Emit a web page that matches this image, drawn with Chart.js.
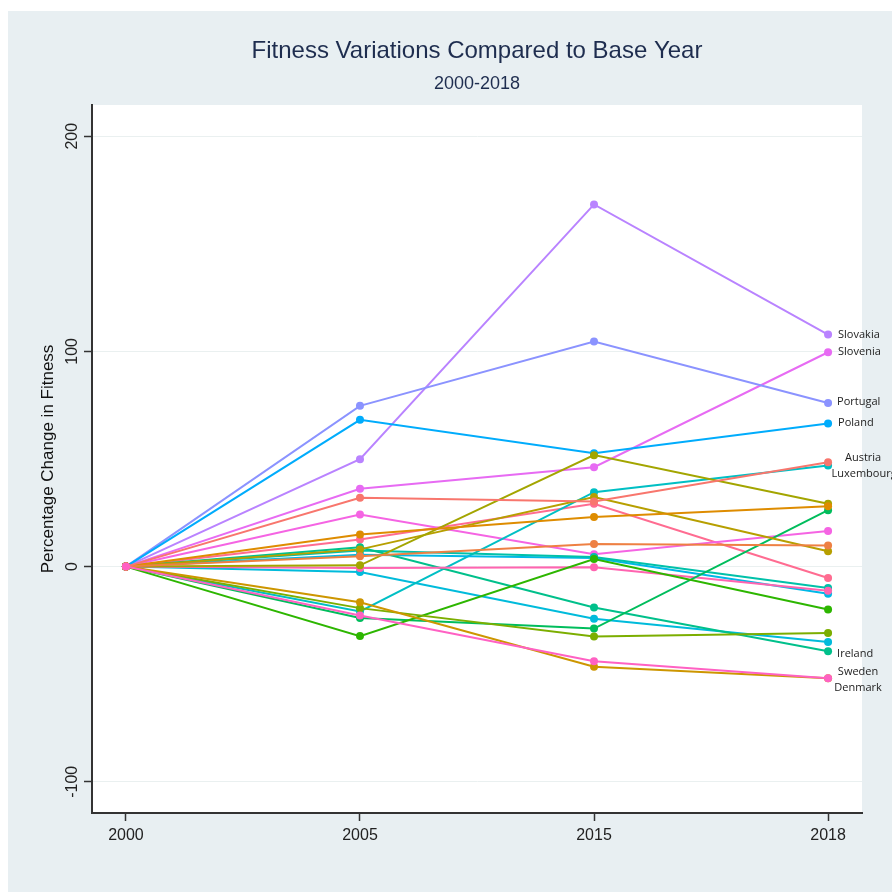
<!DOCTYPE html>
<html>
<head>
<meta charset="utf-8">
<script src="https://cdn.jsdelivr.net/npm/chart.js@4"></script>
<style>
  body { margin: 0; background: #ffffff; }
  #wrap { position: absolute; left: 8px; top: 11px; width: 884px; height: 881px; background: #e8eff2; }
</style>
</head>
<body>
<div id="wrap"><canvas id="myChart" width="884" height="881"></canvas></div>
<script>
const years = ["2000", "2005", "2015", "2018"];
const yTicks = [-100, 0, 100, 200];

const countries = [
  "Austria", "Belgium", "Czechia", "Denmark", "Estonia", "Finland",
  "France", "Germany", "Greece", "Hungary", "Ireland", "Italy",
  "Latvia", "Luxembourg", "Netherlands", "Poland", "Portugal", "Slovakia",
  "Slovenia", "Spain", "Sweden", "United Kingdom"
];

// percentage change vs 2000
const change2000 = [0, 0, 0, 0, 0, 0, 0, 0, 0, 0, 0, 0, 0, 0, 0, 0, 0, 0, 0, 0, 0, 0];
const change2005 = [32, 4.8, 14.9, -16.6, 0.6, 8, -19.3, -32.3, -23.9, -0.6, 9, 7.5, 5.5, -20.8, -2.5, 68.2, 74.7, 49.9, 36.2, 24.2, -22.7, 12.6];
const change2015 = [30.3, 10.5, 23, -46.5, 51.8, 32.3, -32.5, 3.5, -28.8, -0.3, -19, 4.5, 4, 34.6, -24.2, 52.7, 104.6, 168.3, 46.2, 5.7, -44, 29.2];
const change2018 = [48.5, 9.8, 28, -51.9, 29.2, 7.1, -30.8, -19.9, 26.2, -11.2, -39.3, -9.9, -12.6, 47, -35, 66.5, 76, 107.8, 99.6, 16.5, -51.9, -5.3];

const labelled = ["Slovakia", "Slovenia", "Portugal", "Poland", "Austria", "Luxembourg", "Ireland", "Sweden", "Denmark"];

const colors = [
  "#F8766D", "#EE8043", "#DE8C00", "#CD9600", "#A3A500", "#B79F00",
  "#7CAE00", "#2DB600", "#00BD5C", "#FF64B0", "#00C08B", "#00C1A9",
  "#00B8E7", "#00BFC4", "#00BBDB", "#00ACFC", "#8B93FF", "#B983FF",
  "#E76BF3", "#F564E3", "#FF61C3", "#FF6C91"
];

// label nudges next to the 2018 points
const labelStyle = {
  Slovakia: { dx: 10, dy: 0, align: "left" },
  Slovenia: { dx: 10, dy: 0, align: "left" },
  Portugal: { dx: 9, dy: -1, align: "left" },
  Poland: { dx: 10, dy: -1, align: "left" },
  Austria: { dx: 35, dy: -4, align: "center" },
  Luxembourg: { dx: 36, dy: 8, align: "center" },
  Ireland: { dx: 9, dy: 3, align: "left" },
  Sweden: { dx: 30, dy: -6, align: "center" },
  Denmark: { dx: 30, dy: 10, align: "center" }
};

const datasets = countries.map((name, i) => ({
  label: name,
  data: [change2000[i], change2005[i], change2015[i], change2018[i]].map((v, j) => ({ x: j, y: v })),
  borderColor: colors[i],
  backgroundColor: colors[i],
  borderWidth: 2,
  pointRadius: 4,
  pointBorderWidth: 0,
  fill: false,
  tension: 0,
  order: name === "Sweden" ? -1 : 0
}));

const sans = "'Liberation Sans', Arial, sans-serif";

const decor = {
  id: "decor",
  beforeDraw(chart) {
    const { ctx, chartArea: a } = chart;
    ctx.save();
    ctx.fillStyle = "#ffffff";
    ctx.fillRect(a.left, a.top, a.right - a.left, a.bottom - a.top);
    ctx.restore();
  },
  afterDraw(chart) {
    const { ctx, chartArea: a } = chart;
    const xs = chart.scales.x;
    const ys = chart.scales.y;
    const cx = (a.left + a.right) / 2;
    ctx.save();

    ctx.fillStyle = "#1e2d4f";
    ctx.textAlign = "center";
    ctx.textBaseline = "middle";
    ctx.font = "24px " + sans;
    ctx.fillText("Fitness Variations Compared to Base Year", cx, 40);
    ctx.font = "18px " + sans;
    ctx.fillText("2000-2018", cx, 73);

    // y tick labels, rotated like the original
    ctx.fillStyle = "#222222";
    ctx.font = "16px " + sans;
    yTicks.forEach((v) => {
      ctx.save();
      ctx.translate(65, ys.getPixelForValue(v));
      ctx.rotate(-Math.PI / 2);
      ctx.fillText(String(v), 0, 0);
      ctx.restore();
    });

    // y axis title
    ctx.save();
    ctx.font = "17px " + sans;
    ctx.fillStyle = "#111111";
    ctx.translate(40, (a.top + a.bottom) / 2);
    ctx.rotate(-Math.PI / 2);
    ctx.fillText("Percentage Change in Fitness", 0, 0);
    ctx.restore();

    // country labels at the end of the lines
    ctx.font = "11px 'Open Sans', sans-serif";
    ctx.fillStyle = "#222222";
    labelled.forEach((name) => {
      const i = countries.indexOf(name);
      const st = labelStyle[name];
      const px = xs.getPixelForValue(3) + st.dx;
      const py = ys.getPixelForValue(change2018[i]) + st.dy;
      ctx.textAlign = st.align;
      ctx.fillText(name, px, py);
    });
    ctx.restore();
  }
};

new Chart("myChart", {
  type: "line",
  data: { datasets: datasets },
  options: {
    responsive: false,
    animation: false,
    layout: { padding: { top: 94, right: 30, bottom: 0, left: 0 } },
    plugins: {
      legend: { display: false },
      tooltip: { enabled: false }
    },
    scales: {
      x: {
        type: "linear",
        min: -0.145,
        max: 3.145,
        afterBuildTicks: (s) => { s.ticks = [0, 1, 2, 3].map((v) => ({ value: v })); },
        afterFit: (s) => { s.height = 79; },
        ticks: {
          callback: (v) => years[v],
          color: "#222222",
          font: { family: sans, size: 16 },
          padding: 5,
          maxRotation: 0
        },
        grid: { drawOnChartArea: false, drawTicks: true, tickLength: 8, tickColor: "#333333", tickWidth: 1.5 },
        border: { display: true, color: "#333333", width: 2 }
      },
      y: {
        min: -114.5,
        max: 214.5,
        afterBuildTicks: (s) => { s.ticks = yTicks.map((v) => ({ value: v })); },
        afterFit: (s) => { s.width = 84; },
        ticks: { display: false },
        grid: { color: "#eaf0f0", lineWidth: 1, drawTicks: true, tickLength: 8, tickColor: "#333333", tickWidth: 1.5 },
        border: { display: true, color: "#333333", width: 2 }
      }
    }
  },
  plugins: [decor]
});
</script>
</body>
</html>
